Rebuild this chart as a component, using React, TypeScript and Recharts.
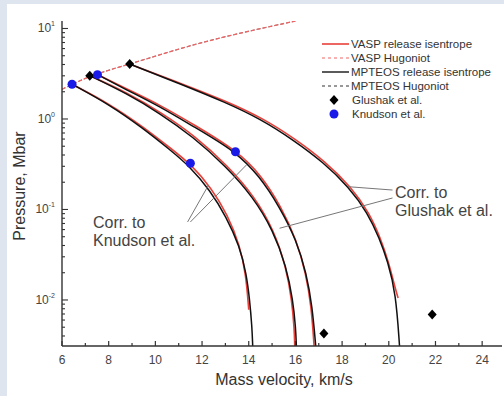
import { ComposedChart, Line, ReferenceLine, Scatter, XAxis, YAxis } from "recharts";

const FONT = "'Liberation Sans', Arial, Helvetica, sans-serif";
const RED = "#e8403a";
const PINK = "#ee6464";
const BLACK = "#111";

// Hugoniot (mass velocity km/s, pressure Mbar) – VASP and MPTEOS nearly coincide
const hugU = [6.0, 6.5, 7.0, 7.5, 8.0, 9.0, 10.0, 11.0, 12.0, 13.0, 14.0, 15.0, 16.0];
const hugP = [2.13, 2.45, 2.83, 3.13, 3.47, 4.12, 4.95, 5.92, 7.01, 8.13, 9.33, 10.64, 12.08];

// MPTEOS release isentropes
const mp1U = [6.43, 8.05, 9.47, 10.61, 11.47, 12.33, 13.04, 13.61, 13.9, 14.04, 14.14, 14.17];
const mp1P = [2.42, 1.43, 0.789, 0.46, 0.3, 0.164, 0.083, 0.039, 0.0195, 0.01, 0.005, 0.0031];
const mp2U = [7.19, 8.76, 10.18, 11.61, 13.04, 14.18, 15.04, 15.61, 15.89, 16.01, 16.04];
const mp2P = [3.01, 1.92, 1.16, 0.638, 0.297, 0.138, 0.0593, 0.0234, 0.01, 0.005, 0.0031];
const mp3U = [7.52, 8.76, 10.18, 11.61, 13.43, 14.47, 15.32, 16.04, 16.47, 16.72, 16.87];
const mp3P = [3.09, 2.1, 1.38, 0.83, 0.44, 0.232, 0.107, 0.046, 0.0197, 0.0085, 0.0031];
const mp4U = [8.9, 11.0, 13.0, 14.5, 15.9, 17.2, 18.3, 19.1, 19.6, 19.95, 20.3, 20.46];
const mp4P = [4.05, 2.48, 1.53, 1.0, 0.589, 0.331, 0.176, 0.0912, 0.0479, 0.0269, 0.012, 0.0031];

// VASP release isentropes
const va1U = [6.43, 8.05, 9.5, 10.65, 11.55, 12.4, 13.1, 13.62, 13.88, 14.0];
const va1P = [2.42, 1.46, 0.81, 0.475, 0.312, 0.172, 0.087, 0.04, 0.019, 0.0078];
const va2U = [7.19, 8.8, 10.25, 11.7, 13.12, 14.25, 15.08, 15.6, 15.85, 15.95, 15.97];
const va2P = [3.01, 1.95, 1.18, 0.65, 0.3, 0.139, 0.059, 0.0232, 0.0098, 0.0048, 0.0031];
const va3U = [7.52, 8.8, 10.25, 11.7, 13.5, 14.55, 15.38, 16.05, 16.45, 16.68, 16.8];
const va3P = [3.09, 2.13, 1.41, 0.85, 0.445, 0.236, 0.108, 0.046, 0.0195, 0.0085, 0.0031];
const va4U = [8.9, 11.05, 13.08, 14.6, 16.0, 17.3, 18.38, 19.17, 19.65, 19.98, 20.3, 20.4];
const va4P = [4.05, 2.5, 1.56, 1.02, 0.6, 0.335, 0.178, 0.0915, 0.0478, 0.0268, 0.0128, 0.0105];

// experiments
const glushakU = [7.19, 8.9, 17.22, 21.86];
const glushakP = [3.01, 4.05, 0.00427, 0.0069];
const knudsonU = [6.43, 7.52, 11.5, 13.43];
const knudsonP = [2.42, 3.09, 0.324, 0.435];

// annotation leader lines [u1, p1, u2, p2]
const leaders = [
  [11.38, 0.0728, 12.28, 0.1866],
  [11.5, 0.0728, 13.9, 0.31],
  [18.25, 0.1786, 20.16, 0.164],
  [15.32, 0.062, 20.16, 0.134],
];

const xTicks = [6, 7, 8, 9, 10, 11, 12, 13, 14, 15, 16, 17, 18, 19, 20, 21, 22, 23, 24];
const decades = [0.001, 0.01, 0.1, 1];
const mantissas = [1, 2, 3, 4, 5, 6, 7, 8, 9];
const X_DOMAIN = [6, 24.85];
const Y_DOMAIN = [0.0031, 12.1];
const yTicks = [
  ...decades.flatMap((d) => mantissas.map((m) => m * d)),
  10,
].filter((v) => v >= Y_DOMAIN[0] && v <= Y_DOMAIN[1]);

const pts = (u: number[], p: number[]) => u.map((x, i) => ({ u: x, p: p[i] }));
const isMajor = (v: number) => Math.abs(Math.log10(v) - Math.round(Math.log10(v))) < 1e-6;

const BottomTick = (props: any) => {
  const { x, y, payload } = props;
  const v = payload.value;
  const major = v % 2 === 0;
  return (
    <g>
      <line x1={x} x2={x} y1={y} y2={y - (major ? 5 : 3)} stroke="#333" strokeWidth={1.2} />
      {major && (
        <text x={x} y={y + 18} textAnchor="middle" fontSize={12} fill="#444" fontFamily={FONT}>
          {v}
        </text>
      )}
    </g>
  );
};

const TopTick = (props: any) => {
  const { x, y, payload } = props;
  const major = payload.value % 2 === 0;
  return <line x1={x} x2={x} y1={y} y2={y + (major ? 5 : 3)} stroke="#333" strokeWidth={1.2} />;
};

const LeftTick = (props: any) => {
  const { x, y, payload } = props;
  const v = payload.value;
  const major = isMajor(v);
  return (
    <g>
      <line x1={x} x2={x + (major ? 6 : 3)} y1={y} y2={y} stroke="#333" strokeWidth={1.1} />
      {major && (
        <text x={x - 7} y={y + 4} textAnchor="end" fontSize={12} fill="#444" fontFamily={FONT}>
          10
          <tspan dy={-6} fontSize={7}>
            {Math.round(Math.log10(v))}
          </tspan>
        </text>
      )}
    </g>
  );
};

const RightTick = (props: any) => {
  const { x, y, payload } = props;
  const major = isMajor(payload.value);
  return <line x1={x} x2={x - (major ? 6 : 3)} y1={y} y2={y} stroke="#777" strokeWidth={1} />;
};

const Diamond = (props: any) => {
  const { cx, cy } = props;
  return <polygon points={`${cx},${cy - 5} ${cx + 4.5},${cy} ${cx},${cy + 5} ${cx - 4.5},${cy}`} fill="#000" />;
};

const BlueDot = (props: any) => <circle cx={props.cx} cy={props.cy} r={4.5} fill="#1a1ae8" />;

const releaseRed = [pts(va1U, va1P), pts(va2U, va2P), pts(va3U, va3P), pts(va4U, va4P)];
const releaseBlack = [pts(mp1U, mp1P), pts(mp2U, mp2P), pts(mp3U, mp3P), pts(mp4U, mp4P)];
const hugoniot = pts(hugU, hugP);

const legendRows = [
  { label: "VASP release isentrope", kind: "line", color: RED, dash: undefined },
  { label: "VASP Hugoniot", kind: "line", color: PINK, dash: "3 3" },
  { label: "MPTEOS release isentrope", kind: "line", color: "#333", dash: undefined },
  { label: "MPTEOS Hugoniot", kind: "line", color: "#333", dash: "3 3" },
  { label: "Glushak et al.", kind: "diamond", color: "#000", dash: undefined },
  { label: "Knudson et al.", kind: "dot", color: "#1a1ae8", dash: undefined },
];

export default function App() {
  return (
    <div style={{ position: "fixed", left: 0, top: 0, width: 504, height: 396, background: "#dfe5ee", overflow: "hidden" }}>
      <div style={{ position: "absolute", left: 7, top: 4, width: 497, height: 392, background: "#fff" }} />
      <div style={{ position: "absolute", left: 0, top: 0 }}>
        <ComposedChart width={504} height={396} margin={{ top: 21, right: 2, bottom: 0, left: 0 }}>
          <XAxis
            xAxisId={0}
            dataKey="u"
            type="number"
            domain={X_DOMAIN}
            ticks={xTicks}
            interval={0}
            allowDataOverflow
            height={50}
            tickSize={0}
            tickMargin={0}
            tickLine={false}
            axisLine={{ stroke: "#333", strokeWidth: 1.4 }}
            tick={(p: any) => <BottomTick {...p} />}
          />
          <XAxis
            xAxisId="top"
            orientation="top"
            type="number"
            domain={X_DOMAIN}
            ticks={xTicks}
            interval={0}
            allowDataOverflow
            height={0}
            tickSize={0}
            tickMargin={0}
            tickLine={false}
            axisLine={{ stroke: "#333", strokeWidth: 1.4 }}
            tick={(p: any) => <TopTick {...p} />}
          />
          <YAxis
            yAxisId={0}
            dataKey="p"
            type="number"
            scale="log"
            domain={Y_DOMAIN}
            ticks={yTicks}
            interval={0}
            allowDataOverflow
            width={62}
            tickSize={0}
            tickMargin={0}
            tickLine={false}
            axisLine={{ stroke: "#333", strokeWidth: 1.4 }}
            tick={(p: any) => <LeftTick {...p} />}
          />
          <YAxis
            yAxisId="right"
            orientation="right"
            type="number"
            scale="log"
            domain={Y_DOMAIN}
            ticks={yTicks}
            interval={0}
            allowDataOverflow
            width={0}
            tickSize={0}
            tickMargin={0}
            tickLine={false}
            axisLine={{ stroke: "#888", strokeWidth: 1 }}
            tick={(p: any) => <RightTick {...p} />}
          />

          <Line data={hugoniot} dataKey="p" type="basis" stroke="#555" strokeWidth={0.8} strokeDasharray="4 2" dot={false} activeDot={false} isAnimationActive={false} />
          <Line data={hugoniot} dataKey="p" type="basis" stroke={PINK} strokeWidth={1.3} strokeDasharray="4 2" dot={false} activeDot={false} isAnimationActive={false} />

          {releaseRed.map((d, i) => (
            <Line key={`r${i}`} data={d} dataKey="p" type="basis" stroke={RED} strokeWidth={1.6} dot={false} activeDot={false} isAnimationActive={false} />
          ))}
          {releaseBlack.map((d, i) => (
            <Line key={`b${i}`} data={d} dataKey="p" type="basis" stroke={BLACK} strokeWidth={1.5} dot={false} activeDot={false} isAnimationActive={false} />
          ))}

          {leaders.map((l, i) => (
            <ReferenceLine
              key={`l${i}`}
              segment={[{ x: l[0], y: l[1] }, { x: l[2], y: l[3] }]}
              stroke="#777"
              strokeWidth={1}
              ifOverflow="visible"
            />
          ))}

          <Scatter data={pts(glushakU, glushakP)} dataKey="p" shape={(p: any) => <Diamond {...p} />} isAnimationActive={false} />
          <Scatter data={pts(knudsonU, knudsonP)} dataKey="p" shape={(p: any) => <BlueDot {...p} />} isAnimationActive={false} />
        </ComposedChart>
      </div>

      <svg width={504} height={396} style={{ position: "absolute", left: 0, top: 0, pointerEvents: "none" }} fontFamily={FONT}>
        {legendRows.map((r, i) => {
          const y = 44 + i * 14;
          return (
            <g key={r.label}>
              {r.kind === "line" && (
                <line x1={322} x2={349} y1={y} y2={y} stroke={r.color} strokeWidth={r.dash ? 1 : 1.6} strokeDasharray={r.dash} />
              )}
              {r.kind === "diamond" && <Diamond cx={334} cy={y} />}
              {r.kind === "dot" && <BlueDot cx={334} cy={y} />}
              <text x={r.kind === "line" ? 351 : 352} y={y + 4} fontSize={11.5} fill="#333">
                {r.label}
              </text>
            </g>
          );
        })}

        <text x={93} y={228} fontSize={16} fill="#444">Corr. to</text>
        <text x={93} y={246} fontSize={16} fill="#444">Knudson et al.</text>
        <text x={395} y={198} fontSize={16} fill="#444">Corr. to</text>
        <text x={395} y={216} fontSize={16} fill="#444">Glushak et al.</text>

        <text x={284} y={385} fontSize={16} fill="#333" textAnchor="middle">Mass velocity, km/s</text>
        <text transform="translate(25,186) rotate(-90)" fontSize={16} fill="#333" textAnchor="middle">Pressure, Mbar</text>
      </svg>
    </div>
  );
}
